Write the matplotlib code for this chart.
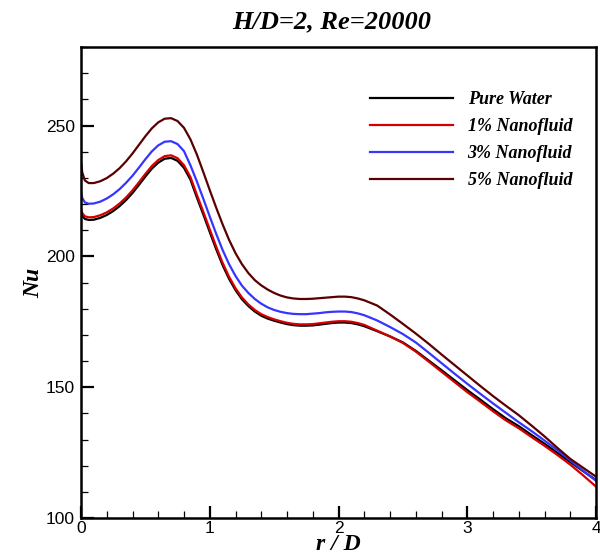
import matplotlib
import numpy as np
import matplotlib.pyplot as plt

matplotlib.use('Agg')

# r/D positions and Nu values
r = [0, 0.01, 0.03, 0.06,
     0.1, 0.15, 0.2, 0.25, 0.3, 0.35, 0.4, 0.45, 0.5, 0.55, 0.6, 0.65, 0.7, 0.75, 0.8, 0.85,
     0.9, 0.95, 1.0, 1.05, 1.1, 1.15, 1.2, 1.25, 1.3, 1.35, 1.4, 1.45, 1.5, 1.55, 1.6, 1.65,
     1.7, 1.75, 1.8, 1.85, 1.9, 1.95, 2.0, 2.05, 2.1, 2.15, 2.2,
     2.3, 2.4, 2.5, 2.6, 2.7, 2.8, 2.9, 3.0, 3.1, 3.2, 3.3, 3.4, 3.5, 3.6, 3.7, 3.8, 3.9, 4.0]

nu_water = [217, 215.5, 214.3, 213.9,
            214.0, 214.7, 215.8, 217.3, 219.2, 221.5, 224.2, 227.3, 230.5, 233.5, 235.8, 237.3,
            237.6, 236.5, 233.8, 229.3, 222.5, 216, 209.3, 202.7, 196.6, 191.4, 187.1, 183.6,
            181.0, 178.9, 177.3, 176.2, 175.4, 174.7, 174.1, 173.7, 173.5, 173.5, 173.6, 173.9,
            174.2, 174.5, 174.7, 174.7, 174.5, 174.0, 173.3,
            171.4, 169.4, 167.1, 163.9, 160.2, 156.5, 152.7, 148.9, 145.3, 141.6, 138.1, 135.1,
            131.7, 128.4, 124.9, 121.4, 117.9, 114.5]
nu_1 = [218, 216.5, 215.3, 214.9,
        215.0, 215.7, 216.8, 218.3, 220.2, 222.5, 225.2, 228.3, 231.5, 234.5, 236.8, 238.3,
        238.6, 237.5, 234.8, 230.3, 223.5, 217, 210.3, 203.7, 197.5, 192.2, 187.8, 184.3,
        181.6, 179.5, 177.9, 176.8, 175.9, 175.2, 174.6, 174.2, 174.0, 174.0, 174.1, 174.4,
        174.7, 175.0, 175.2, 175.2, 175.0, 174.5, 173.8,
        171.6, 169.4, 166.9, 163.6, 159.8, 155.9, 152, 148.1, 144.5, 140.8, 137.3, 134.3,
        130.9, 127.6, 124.1, 120.4, 116.3, 112]
nu_3 = [224.5, 222.3, 220.6, 220.1,
        220.2, 220.9, 222.1, 223.7, 225.7, 228.1, 230.8, 233.9, 237.1, 240.1, 242.4, 243.8,
        244.0, 242.9, 240.2, 234.8, 228.6, 222, 215.2, 208.6, 202.4, 197, 192.5, 188.8,
        186.0, 183.7, 181.9, 180.5, 179.5, 178.8, 178.3, 178.0, 177.9, 177.9, 178.1, 178.3,
        178.6, 178.8, 178.9, 178.9, 178.7, 178.2, 177.5,
        175.5, 173, 170.3, 167.1, 163.2, 159.2, 155.2, 151.3, 147.5, 143.8, 140.2, 136.6,
        133.2, 129.6, 125.9, 122, 118.1, 114.2]
nu_5 = [236, 232, 229, 228,
        228, 228.7, 229.9, 231.6, 233.7, 236.3, 239.3, 242.6, 245.9, 248.9, 251.2, 252.6,
        252.8, 251.7, 249.1, 244.7, 238.9, 232.2, 225.3, 218.6, 212.2, 206.3, 201.2, 197,
        193.6, 190.9, 188.9, 187.3, 186.0, 185.0, 184.3, 183.9, 183.7, 183.7, 183.8, 184.0,
        184.2, 184.4, 184.6, 184.6, 184.4, 183.9, 183.2,
        181.2, 177.8, 174.2, 170.5, 166.6, 162.5, 158.5, 154.5, 150.5, 146.6, 142.9, 139.3,
        135.3, 131.2, 126.8, 122.6, 119.2, 115.8]

labels = ['Pure Water', '1% Nanofluid', '3% Nanofluid', '5% Nanofluid']
colors = ['#000000', '#d40000', '#3535ff', '#5a0000']

serif = 'Liberation Serif'
plt.rcParams['font.family'] = 'Liberation Sans'

fig = plt.figure(figsize=(6, 5.6), dpi=100)
ax = fig.add_axes([81/600, 1 - 518/560, 515/600, 471/560])

for y, lab, c in zip([nu_water, nu_1, nu_3, nu_5], labels, colors):
    ax.plot(r, y, color=c, lw=1.6, label=lab, solid_joinstyle='round')

ax.set_xlim(0, 4)
ax.set_ylim(100, 280)
ax.set_xticks([0, 1, 2, 3, 4])
ax.set_xticks(np.arange(0, 4.01, 0.2), minor=True)
ax.set_yticks([100, 150, 200, 250])
ax.set_yticks(np.arange(100, 281, 10), minor=True)
ax.tick_params(which='both', direction='in', top=False, right=False, labelsize=12.5)
ax.tick_params(which='major', length=9, width=1.6)
ax.tick_params(which='minor', length=5, width=0.9)
ax.tick_params(axis='x', pad=2)
ax.tick_params(axis='y', pad=4.5)
for s in ax.spines.values():
    s.set_linewidth(1.8)

fig.text(332/600, 1 - 22/560, 'H/D=2, Re=20000', family=serif, fontweight='bold',
         style='italic', fontsize=19, ha='center', va='center')
ax.set_xlabel('r / D', family=serif, fontweight='bold', style='italic', fontsize=17, labelpad=-1)
ax.set_ylabel('Nu', family=serif, fontweight='bold', style='italic', fontsize=17, labelpad=1)

ax.legend(loc='upper left', bbox_to_anchor=(361/600, 1 - 82/560), bbox_transform=fig.transFigure,
          frameon=False, handlelength=4.6, handletextpad=0.8, labelspacing=0.55, borderpad=0,
          prop={'family': serif, 'weight': 'bold', 'style': 'italic', 'size': 13})

fig.savefig('out.png', dpi=100)
